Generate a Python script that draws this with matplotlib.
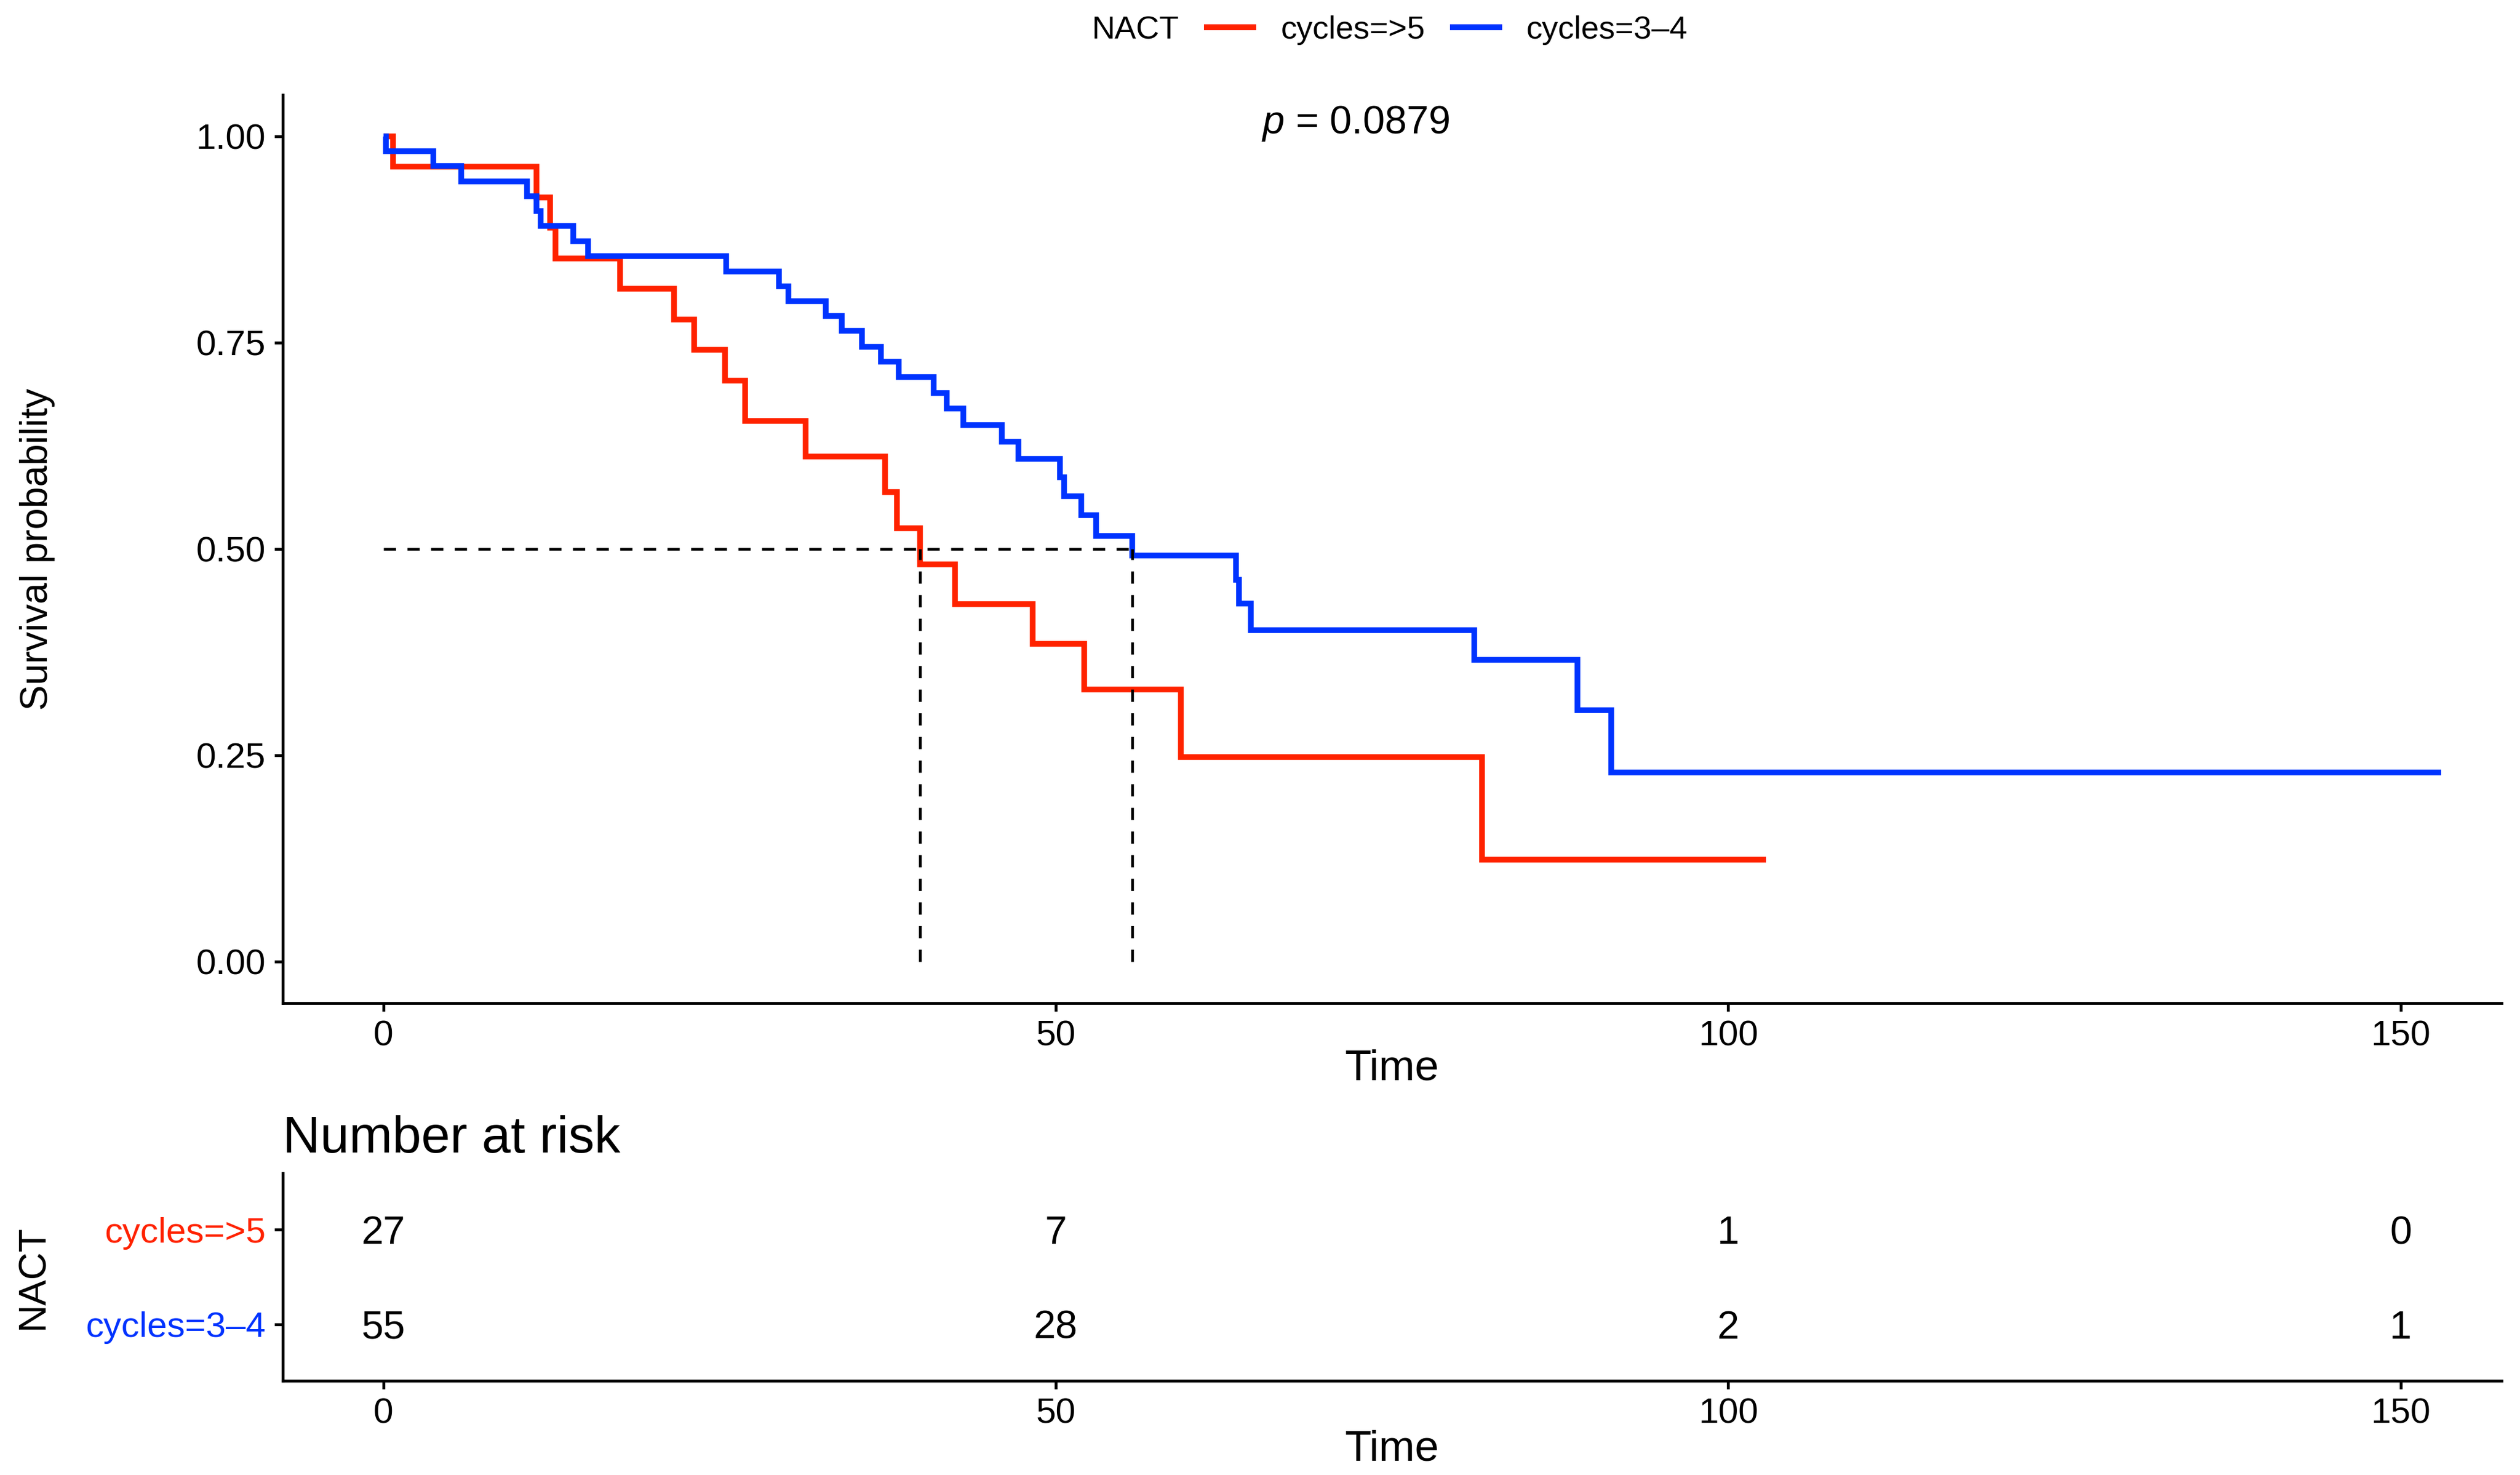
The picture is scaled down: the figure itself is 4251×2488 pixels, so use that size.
""" km_nact.py
"""
# Kaplan-Meier curves by NACT cycles, with number-at-risk table

#%% IMPORT SECTION
import matplotlib
matplotlib.use("Agg")
import matplotlib.pyplot as plt
from matplotlib.lines import Line2D
from matplotlib.ticker import FormatStrFormatter

plt.rcParams['font.family'] = ['Liberation Sans', 'DejaVu Sans']
plt.rcParams['mathtext.fontset'] = 'custom'
plt.rcParams['mathtext.it'] = 'Liberation Sans:italic'
plt.rcParams['mathtext.rm'] = 'Liberation Sans'

#%% DATA
groups = ['cycles=>5', 'cycles=3–4']
colors = ['#FF2200', '#0033FF']

red_time = [0, 0.7, 11.4, 12.4, 12.8, 17.6, 21.6, 23.1, 25.4, 26.9,
            31.4, 37.3, 38.2, 39.9, 42.5, 48.3, 52.1, 59.3, 81.7]
red_surv = [1.0, 0.963, 0.926, 0.889, 0.852, 0.815, 0.778, 0.741, 0.704, 0.655,
            0.612, 0.569, 0.525, 0.481, 0.433, 0.385, 0.330, 0.248, 0.124]
red_end = 102.8

blue_time = [0, 0.2, 3.7, 5.8, 10.7, 11.4, 11.7, 14.1, 15.2, 25.5,
             29.4, 30.1, 32.9, 34.1, 35.6, 37.0, 38.3, 40.9, 41.9, 43.1,
             46.0, 47.2, 50.3, 50.6, 51.9, 53.0, 55.7, 63.4, 63.6, 64.5,
             81.1, 88.8, 91.3]
blue_surv = [1.0, 0.982, 0.964, 0.945, 0.927, 0.909, 0.891, 0.873, 0.855, 0.836,
             0.818, 0.800, 0.782, 0.764, 0.745, 0.727, 0.708, 0.689, 0.670, 0.650,
             0.630, 0.609, 0.587, 0.564, 0.541, 0.516, 0.492, 0.463, 0.434, 0.402,
             0.366, 0.305, 0.229]
blue_end = 153.0

risk_times = [0, 50, 100, 150]
risk_red = [27, 7, 1, 0]
risk_blue = [55, 28, 2, 1]

p_value = 0.0879


#%% HELPERS
def median_time(times, surv):
    for t, s in zip(times, surv):
        if s <= 0.5:
            return t
    return None


def style_axis(ax):
    ax.spines['top'].set_visible(False)
    ax.spines['right'].set_visible(False)
    for side in ['left', 'bottom']:
        ax.spines[side].set_linewidth(1.15)
    ax.tick_params(direction='out', length=3.3, width=1.15, pad=3.5,
                   labelsize=14.5, colors='black')


#%% FIGURE
fig = plt.figure(figsize=(4251 / 300, 2488 / 300), dpi=300)
ax = fig.add_axes([0.1121, 0.3199, 0.8806, 0.6158])
ax2 = fig.add_axes([0.1121, 0.0639, 0.8806, 0.1407])

curves = [(red_time, red_surv, red_end), (blue_time, blue_surv, blue_end)]
for (t, s, end), c in zip(curves, colors):
    ax.step(t + [end], s + [s[-1]], where='post', color=c, lw=2.3,
            solid_joinstyle='miter', solid_capstyle='butt')

# median survival lines
medians = [median_time(t, s) for t, s, _ in curves]
ax.plot([0, max(medians)], [0.5, 0.5], color='black', lw=1.1,
        linestyle=(0, (4.5, 4.2)))
for m in medians:
    ax.plot([m, m], [0, 0.5], color='black', lw=1.1, linestyle=(0, (4.5, 4.2)))

ax.set_xlim(-7.5, 157.5)
ax.set_ylim(-0.05, 1.05)
ax.set_xticks(risk_times)
ax.set_yticks([0, 0.25, 0.5, 0.75, 1.0])
ax.yaxis.set_major_formatter(FormatStrFormatter('%.2f'))
style_axis(ax)

ax.set_xlabel('Time', fontsize=17.5)
ax.xaxis.set_label_coords(0.5, -0.0725)
ax.xaxis.label.set_va('center')
ax.set_ylabel('Survival probability', fontsize=15.5)
ax.yaxis.set_label_coords(-0.1105, 0.5)
ax.yaxis.label.set_va('center')

ax.text(72.3, 1.021, '$p$ = ' + str(p_value), ha='center',
        va='center_baseline', fontsize=16)

# legend on top
fig.text(0.468, 0.9795, 'NACT', ha='right', va='center', fontsize=13)
handles = [Line2D([], [], color=c, lw=2.4) for c in colors]
fig.legend(handles, groups, loc='center left', bbox_to_anchor=(0.479, 0.9795),
           ncol=2, frameon=False, fontsize=13, handlelength=1.44,
           handletextpad=0.85, columnspacing=0.87, borderpad=0,
           borderaxespad=0)

#%% RISK TABLE
rows = [(risk_blue, 1), (risk_red, 2)]
for vals, ypos in rows:
    for t, n in zip(risk_times, vals):
        ax2.text(t, ypos, str(n), ha='center', va='center_baseline',
                 fontsize=16)

ax2.set_xlim(-7.5, 157.5)
ax2.set_ylim(0.4, 2.6)
ax2.set_xticks(risk_times)
ax2.set_yticks([1, 2])
ax2.set_yticklabels([groups[1], groups[0]])
style_axis(ax2)
for lab, c in zip(ax2.get_yticklabels(), [colors[1], colors[0]]):
    lab.set_color(c)

ax2.text(0, 1.10, 'Number at risk', transform=ax2.transAxes, ha='left',
         va='baseline', fontsize=21)
ax2.set_xlabel('Time', fontsize=17.5)
ax2.xaxis.set_label_coords(0.5, -0.33)
ax2.xaxis.label.set_va('center')
ax2.set_ylabel('NACT', fontsize=15.5)
ax2.yaxis.set_label_coords(-0.1124, 0.5)
ax2.yaxis.label.set_va('center')

fig.savefig('out.png', dpi=300)
